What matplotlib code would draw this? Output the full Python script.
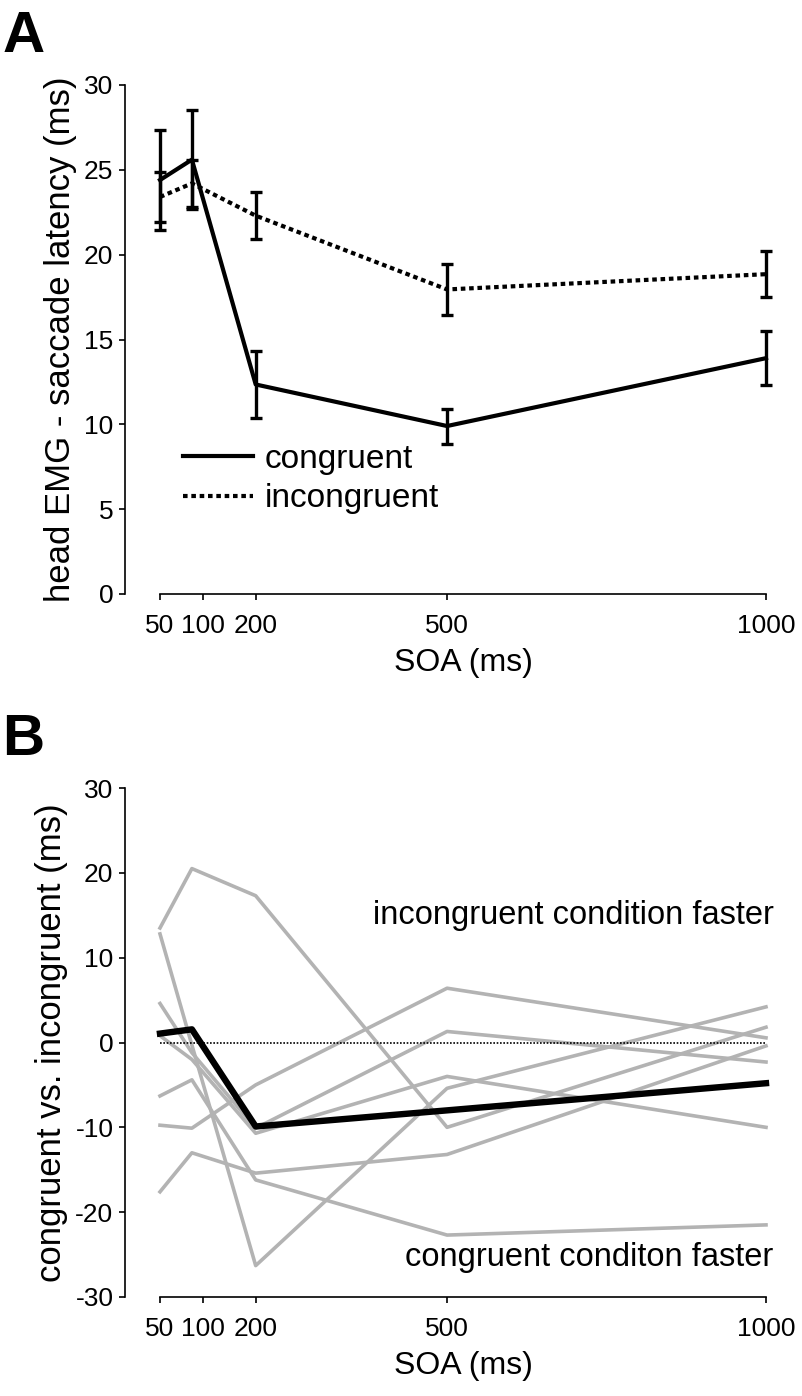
import numpy as np
import matplotlib
matplotlib.use("Agg")
import matplotlib.pyplot as plt

plt.rcParams['font.family'] = ['Liberation Sans', 'DejaVu Sans']
plt.rcParams['axes.unicode_minus'] = False

# SOA conditions (ms)
soa = [50, 100, 200, 500, 1000]
soa_labels = ['50', '100', '200', '500', '1000']
soa_tick_pos = [50, 117, 200, 500, 1000]

# Panel A: head EMG - saccade latency (ms)
congruent = [24.4, 25.6, 12.35, 9.9, 13.9]
congruent_err = [2.95, 2.9, 1.95, 1.03, 1.6]
incongruent = [23.4, 24.2, 22.3, 17.95, 18.85]
incongruent_err = [1.5, 1.4, 1.4, 1.5, 1.35]

# Panel B: congruent vs. incongruent, single subjects + mean
subjects = [
    [13.5, 20.5, 17.3, -10.0, 1.8],
    [12.8, -0.3, -26.3, -5.4, 4.2],
    [4.6, -1.2, -10.1, 1.3, -2.3],
    [0.8, -2.0, -10.7, -4.0, -10.0],
    [-6.3, -4.4, -16.2, -22.7, -21.5],
    [-17.6, -13.0, -15.4, -13.2, -0.4],
    [-9.75, -10.1, -5.0, 6.4, 0.55],
]
mean_diff = [1.05, 1.55, -9.9, -8.0, -4.8]

fig = plt.figure(figsize=(8.02, 13.96), dpi=100)

W, H = 802, 1396
ax_left, ax_right = 160, 766


def make_axes(top_px, bottom_px):
    ax = fig.add_axes([ax_left / W, 1 - bottom_px / H,
                       (ax_right - ax_left) / W, (bottom_px - top_px) / H])
    for s in ['top', 'right']:
        ax.spines[s].set_visible(False)
    ax.spines['left'].set_position(('outward', 25))
    ax.spines['left'].set_linewidth(1.2)
    ax.spines['bottom'].set_linewidth(1.2)
    ax.set_xlim(50, 1000)
    ax.spines['bottom'].set_bounds(50, 1000)
    ax.set_xticks(soa_tick_pos)
    ax.set_xticklabels(soa_labels)
    ax.tick_params(axis='x', length=4.5, width=1.2, pad=10, labelsize=19)
    ax.tick_params(axis='y', length=4.5, width=1.2, pad=4, labelsize=19)
    ax.set_xlabel('SOA (ms)', fontsize=23, labelpad=7)
    return ax


# ---- Panel A ----
axA = make_axes(85, 594)
axA.set_ylim(0, 30)
axA.set_yticks(range(0, 31, 5))
axA.spines['left'].set_bounds(0, 30)

axA.errorbar(soa, congruent, yerr=congruent_err, color='black', lw=3,
             elinewidth=2.4, capsize=4.5, capthick=2.4, label='congruent',
             clip_on=False, zorder=3)
axA.errorbar(soa, incongruent, yerr=incongruent_err, color='black', lw=3,
             linestyle=(0, (1.1, 0.9)), elinewidth=2.4, capsize=4.5,
             capthick=2.4, label='incongruent', clip_on=False, zorder=3)
axA.set_ylabel('head EMG - saccade latency (ms)', fontsize=25, labelpad=5)

h, l = axA.get_legend_handles_labels()
h = [hh[0] for hh in h]
axA.legend(h, l, loc='upper left', bbox_to_anchor=(0.038, 0.295),
           frameon=False, fontsize=24, handlelength=2.1, handletextpad=0.35,
           labelspacing=0.25, borderpad=0, borderaxespad=0)

fig.text(0.003, 1 - 10 / H, 'A', fontsize=42, fontweight='bold',
         ha='left', va='top')

# ---- Panel B ----
axB = make_axes(788, 1297)
axB.set_ylim(-30, 30)
axB.set_yticks(range(-30, 31, 10))
axB.spines['left'].set_bounds(-30, 30)

for subj in subjects:
    axB.plot(soa, subj, color='#b3b3b3', lw=2.6, clip_on=False, zorder=2)
axB.plot([soa[0], soa[-1]], [0, 0], color='black', lw=1.2,
         linestyle=(0, (1, 1)), zorder=3)
axB.plot(soa, mean_diff, color='black', lw=4.6, clip_on=False, zorder=4)
axB.set_ylabel('congruent vs. incongruent (ms)', fontsize=25, labelpad=5)

axB.text(1012, 15, 'incongruent condition faster', fontsize=23.5,
         ha='right', va='center')
axB.text(1012, -25.3, 'congruent conditon faster', fontsize=23.5,
         ha='right', va='center')

fig.text(0.003, 1 - 713 / H, 'B', fontsize=42, fontweight='bold',
         ha='left', va='top')

fig.savefig('out.png', dpi=100)
